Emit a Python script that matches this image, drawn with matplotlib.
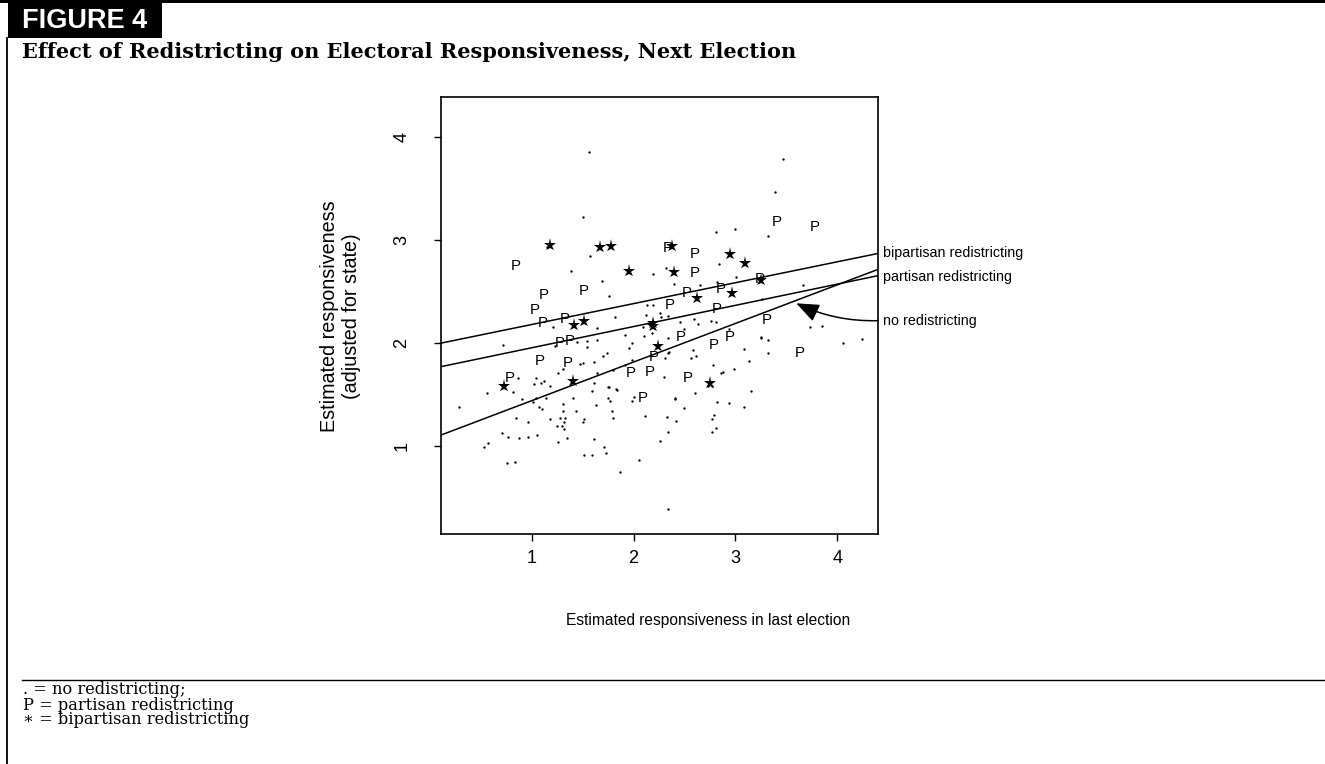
import numpy as np
import matplotlib.pyplot as plt
from matplotlib.patches import Rectangle
from matplotlib.lines import Line2D

plt.rcParams['font.family'] = ['Liberation Sans', 'DejaVu Sans']

# "." = no redistricting
none_x = [1.559, 1.506, 3.468, 3.386, 2.806, 2.996, 3.323, 1.146, 1.572, 1.388,
          2.194, 2.842, 3.006, 1.693, 1.755, 3.667, 2.321, 2.393, 2.655, 2.822,
          3.264, 2.128, 2.194, 2.119, 2.259, 1.817, 1.637, 1.211, 2.096, 2.184,
          2.266, 2.338, 2.453, 2.593, 2.633, 2.757, 2.812, 2.495, 2.934, 3.733,
          3.848, 1.916, 2.102, 1.981, 1.447, 1.539, 1.637, 1.228, 0.720, 1.539,
          2.341, 3.255, 3.320, 3.248, 4.247, 4.060, 1.955, 1.736, 2.335, 2.583,
          3.084, 3.323, 2.613, 2.567, 2.311, 2.345, 1.703, 1.506, 1.473, 1.611,
          1.916, 1.981, 2.783, 2.875, 2.986, 3.134, 1.637, 1.801, 1.310, 1.261,
          0.868, 1.041, 1.090, 1.179, 1.022, 1.120, 2.299, 2.862, 1.611, 1.751,
          1.824, 3.153, 0.563, 0.818, 0.288, 0.901, 1.041, 1.139, 1.009, 1.074,
          1.097, 1.309, 1.303, 1.402, 1.434, 0.845, 0.966, 1.179, 1.277, 1.326,
          1.316, 1.251, 1.300, 1.320, 1.349, 1.260, 0.704, 0.763, 0.877, 0.959,
          1.051, 0.530, 0.573, 0.753, 0.835, 1.513, 1.506, 1.611, 1.513, 1.595,
          1.712, 1.726, 1.866, 2.056, 2.112, 2.259, 1.631, 1.801, 1.791, 1.752,
          1.765, 1.595, 1.834, 1.981, 2.004, 1.761, 2.731, 2.770, 2.600, 2.403,
          2.822, 2.937, 2.495, 3.084, 2.790, 2.773, 2.328, 2.419, 2.806, 2.773,
          2.341, 2.338, 2.407]
none_y = [3.857, 3.222, 3.786, 3.466, 3.077, 3.106, 3.044, 2.937, 2.846, 2.704,
          2.669, 2.769, 2.645, 2.604, 2.458, 2.565, 2.727, 2.571, 2.565, 2.591,
          2.426, 2.370, 2.370, 2.273, 2.290, 2.257, 2.144, 2.154, 2.154, 2.101,
          2.251, 2.263, 2.208, 2.234, 2.183, 2.215, 2.208, 2.134, 2.134, 2.159,
          2.166, 2.079, 2.069, 1.998, 2.014, 2.023, 2.030, 1.972, 1.982, 1.965,
          2.047, 2.047, 2.030, 2.062, 2.037, 2.004, 1.949, 1.907, 1.907, 1.933,
          1.940, 1.907, 1.875, 1.852, 1.852, 1.916, 1.875, 1.804, 1.794, 1.819,
          1.787, 1.836, 1.787, 1.716, 1.745, 1.826, 1.712, 1.739, 1.745, 1.707,
          1.658, 1.658, 1.609, 1.583, 1.603, 1.635, 1.673, 1.712, 1.609, 1.576,
          1.551, 1.535, 1.515, 1.522, 1.382, 1.454, 1.469, 1.469, 1.425, 1.382,
          1.360, 1.405, 1.340, 1.464, 1.340, 1.275, 1.230, 1.259, 1.269, 1.275,
          1.236, 1.197, 1.197, 1.162, 1.081, 1.036, 1.129, 1.085, 1.081, 1.090,
          1.107, 0.993, 1.026, 0.838, 0.845, 1.262, 1.236, 1.068, 0.913, 0.913,
          0.987, 0.929, 0.744, 0.864, 1.292, 1.049, 1.398, 1.269, 1.343, 1.464,
          1.440, 1.538, 1.544, 1.437, 1.479, 1.576, 1.586, 1.586, 1.512, 1.457,
          1.431, 1.415, 1.372, 1.376, 1.301, 1.265, 1.279, 1.243, 1.178, 1.133,
          1.139, 0.385, 1.464]

# "P" = partisan redistricting
part_x = [3.402, 3.779, 2.335, 2.597, 0.845, 2.597, 3.240, 1.113, 1.513, 1.025,
          2.521, 2.856, 2.358, 2.816, 1.107, 1.319, 3.307, 1.270, 1.368, 2.463,
          2.783, 2.940, 3.635, 2.534, 1.081, 1.353, 0.779, 1.972, 2.161, 2.200,
          2.089]
part_y = [3.174, 3.125, 2.921, 2.866, 2.752, 2.684, 2.625, 2.467, 2.509, 2.322,
          2.490, 2.523, 2.370, 2.328, 2.198, 2.231, 2.224, 2.004, 2.023, 2.056,
          1.982, 2.056, 1.907, 1.665, 1.829, 1.804, 1.658, 1.707, 1.716, 1.862,
          1.464]

# "*" = bipartisan redistricting
bip_x = [1.179, 1.670, 1.775, 2.380, 2.947, 3.094, 1.955, 2.400, 3.248, 2.626,
         2.963, 1.415, 1.513, 2.188, 2.195, 2.243, 0.730, 1.402, 2.747]
bip_y = [2.953, 2.931, 2.944, 2.947, 2.866, 2.776, 2.704, 2.694, 2.613, 2.435,
         2.490, 2.176, 2.218, 2.196, 2.165, 1.972, 1.583, 1.635, 1.615]

# fitted lines
line_names = ['bipartisan redistricting', 'partisan redistricting', 'no redistricting']
line_icpt = [1.978, 1.749, 1.066]
line_slope = [0.203, 0.206, 0.375]
label_y = [2.873, 2.645, 2.218]

ticks = [1, 2, 3, 4]

W, H = 1325, 764
fig = plt.figure(figsize=(W / 100, H / 100), dpi=100)

# frame of the printed figure
fig.add_artist(Rectangle((0, 1 - 3 / H), 1, 3 / H, transform=fig.transFigure,
                         color='black', lw=0))
fig.add_artist(Rectangle((8 / W, 1 - 38 / H), 154 / W, 38 / H,
                         transform=fig.transFigure, color='black', lw=0))
fig.text(85 / W, 1 - 21 / H, 'FIGURE 4', color='white', fontsize=19.5,
         fontweight='bold', ha='center', va='center')
fig.add_artist(Line2D([7.5 / W, 7.5 / W], [0, 1 - 38 / H],
                      transform=fig.transFigure, color='black', lw=1.3))
fig.add_artist(Line2D([22 / W, 1], [1 - 680 / H, 1 - 680 / H],
                      transform=fig.transFigure, color='black', lw=1.0))

fig.text(22 / W, 1 - 52 / H,
         'Effect of Redistricting on Electoral Responsiveness, Next Election',
         family='DejaVu Serif', fontweight='bold', fontsize=15, va='center')

notes = ['. = no redistricting;', 'P = partisan redistricting',
         '\u2217 = bipartisan redistricting']
for i, t in enumerate(notes):
    fig.text(23 / W, 1 - (690 + 15 * i) / H, t, family='DejaVu Serif',
             fontsize=11.7, va='center')

# plot
ax = fig.add_axes([441 / W, 1 - 534.3 / H, 437 / W, 436.8 / H])
ax.set_xlim(0.108, 4.401)
ax.set_ylim(0.142, 4.387)

ax.plot(none_x, none_y, linestyle='none', marker='o', markersize=1.7,
        color='black', markeredgewidth=0)
for x, y in zip(part_x, part_y):
    ax.text(x, y, 'P', fontsize=10.8, ha='center', va='center')
ax.plot(bip_x, bip_y, linestyle='none', marker='*', markersize=9.5,
        color='black', markeredgewidth=0)

for name, a, b, ly in zip(line_names, line_icpt, line_slope, label_y):
    ax.axline((0, a), slope=b, color='black', lw=1.1)
    ax.text(1.011, ly, name, transform=ax.get_yaxis_transform(),
            fontsize=10.3, va='center', ha='left')

ax.annotate('', xy=(3.598, 2.387), xytext=(4.401, 2.218),
            arrowprops=dict(arrowstyle='-|>,head_length=1.0,head_width=0.4',
                            mutation_scale=14, color='black', lw=1.1,
                            connectionstyle='arc3,rad=-0.12', shrinkA=0, shrinkB=0),
            annotation_clip=False)

ax.set_xticks(ticks)
ax.set_yticks(ticks)
ax.set_xticklabels([str(t) for t in ticks])
ax.set_yticklabels([str(t) for t in ticks], rotation=90, va='center')
ax.tick_params(direction='out', length=5, width=1, labelsize=13)
ax.tick_params(axis='x', pad=6)
ax.tick_params(axis='y', pad=17)
for s in ax.spines.values():
    s.set_linewidth(1.2)

fig.text(708 / W, 1 - 620 / H, 'Estimated responsiveness in last election',
         fontsize=11.2, ha='center', va='center')
fig.text(340.5 / W, 1 - 316 / H, 'Estimated responsiveness\n(adjusted for state)',
         fontsize=14.2, ha='center', va='center', rotation=90, linespacing=1.2,
         multialignment='center')

fig.savefig('out.png', dpi=100)
